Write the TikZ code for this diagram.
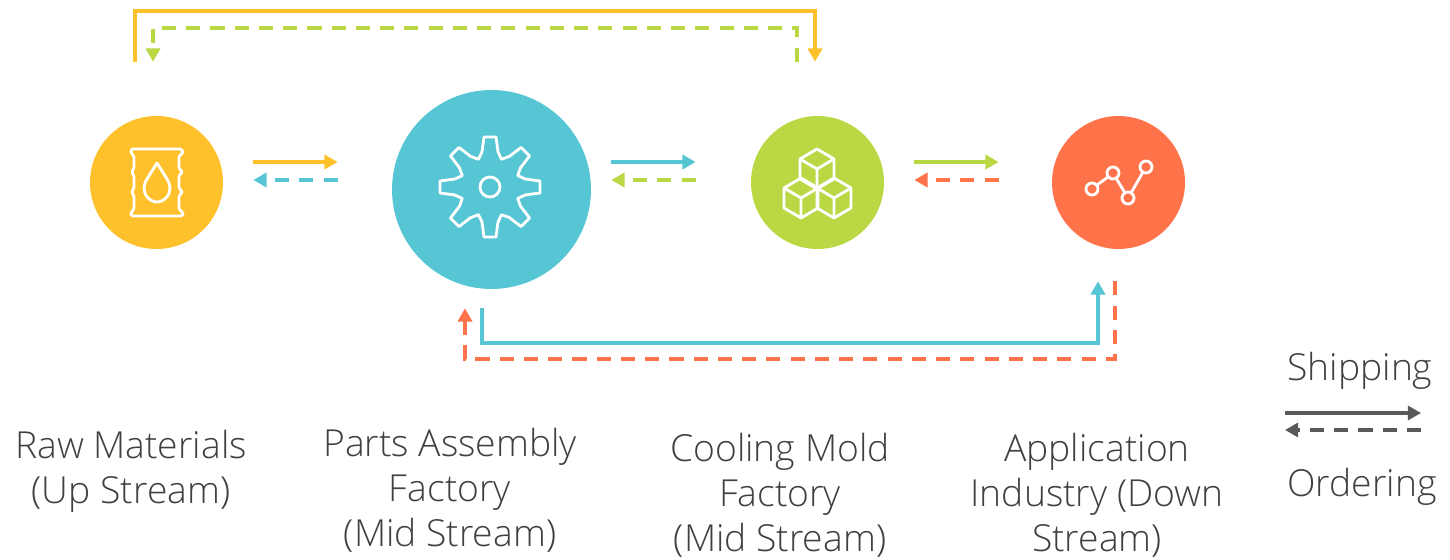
\documentclass[tikz,border=0pt]{standalone}
\usepackage{xcolor}
\usepackage{fontspec}
\setmainfont{Open Sans Light}
\usepackage{tikz}
\usetikzlibrary{calc,arrows.meta}
\definecolor{raw}{HTML}{FFC12B}
\definecolor{parts}{HTML}{56C6D4}
\definecolor{mold}{HTML}{BAD744}
\definecolor{app}{HTML}{FF734A}
\definecolor{legend}{HTML}{595959}
\definecolor{ink}{HTML}{404040}
\tikzset{
  hub/.style={circle, inner sep=0pt, minimum size=2.66cm},
  bighub/.style={circle, inner sep=0pt, minimum size=3.98cm},
  ship/.style={line width=2pt, -{Triangle[length=7.5pt,width=8pt]}},
  order/.style={line width=2pt, dash pattern=on 8pt off 5.8pt, -{Triangle[length=7.5pt,width=8pt]}},
  icon/.style={draw=white, line width=1.6pt, line join=round, line cap=round},
  lab/.style={text=ink, align=center, inner sep=0pt, font=\fontsize{21.2}{25.6}\selectfont}
}
\begin{document}
\begin{tikzpicture}[x=0.02cm,y=-0.02cm]
  \useasboundingbox (0,0) rectangle (1450,560);
  \node[hub,fill=raw] (rawhub) at (156.5,182.5) {};
  \node[bighub,fill=parts] (partshub) at (491.5,189.5) {};
  \node[hub,fill=mold] (moldhub) at (817.5,182.5) {};
  \node[hub,fill=app] (apphub) at (1118.5,182.5) {};

  \coordinate (topship) at (475,11);
  \coordinate (toporder) at (475,28);
  \coordinate (lowship) at (790,343);
  \coordinate (loworder) at (790,359);
  \coordinate (legendl) at (1285,413);
  \coordinate (legendr) at (1421,413);
  \coordinate (legendlb) at (1285,430);
  \coordinate (legendrb) at (1421,430);

  \draw[ship,raw] ([shift={(30,-20.5)}]rawhub.east) -- ([shift={(-54,-27.5)}]partshub.west);
  \draw[order,parts] ([shift={(-54,-9.5)}]partshub.west) -- ([shift={(30,-2.5)}]rawhub.east);
  \draw[ship,parts] ([shift={(20,-27.5)}]partshub.east) -- ([shift={(-55,-20.5)}]moldhub.west);
  \draw[order,mold] ([shift={(-55,-2.5)}]moldhub.west) -- ([shift={(20,-9.5)}]partshub.east);
  \draw[ship,mold] ([shift={(30,-20.5)}]moldhub.east) -- ([shift={(-53,-20.5)}]apphub.west);
  \draw[order,app] ([shift={(-53,-2.5)}]apphub.west) -- ([shift={(30,-2.5)}]moldhub.east);

  \draw[ship,raw,line width=2.3pt] ([shift={(-21.5,-54)}]rawhub.north) |- (topship) -| ([shift={(-2.5,-54)}]moldhub.north);
  \draw[order,mold] ([shift={(-20.5,-54)}]moldhub.north) |- (toporder) -| ([shift={(-3.5,-54)}]rawhub.north);
  \draw[ship,parts,line width=2.3pt] ([shift={(-9.5,19)}]partshub.south) |- (lowship) -| ([shift={(-20.5,32)}]apphub.south);
  \draw[order,app] ([shift={(-3.5,32)}]apphub.south) |- (loworder) -| ([shift={(-26.5,19)}]partshub.south);

  \draw[ship,legend] (legendl) -- (legendr);
  \draw[order,legend] (legendrb) -- (legendlb);

  \begin{scope}[shift={(156,182)}]
    \draw[icon,rounded corners=1pt] (-25,-33)--(26,-33)--(27,-28)--(23,-27)--(23,-13)--(27,-10)--(23,-7)--(23,7)--(27,10)--(23,13)--(23,28)--(27,30)--(27,34)--(-25,34)--(-25,30)--(-22,28)--(-22,13)--(-25,10)--(-22,7)--(-22,-7)--(-25,-10)--(-22,-13)--(-22,-27)--(-25,-28)--cycle;
    \draw[icon] (1,-19) -- (-9,-3) .. controls (-17,10) and (-7,20) .. (1,20) .. controls (9,20) and (19,10) .. (11,-3) -- cycle;
  \end{scope}

  \begin{scope}[shift={(490,187)}]
    \draw[icon] (0,0) circle (10);
    \foreach \a in {0,45,...,315}
      \draw[icon,rotate=\a] (-8,-35)--(-6,-50)--(6,-50)--(8,-35)--(11.5,-27.7)--(19.1,-30.5);
  \end{scope}

  \foreach \cx/\cy in {817/169,801/198,834/198}
    \draw[icon,shift={(\cx,\cy)}] (0,-20)--(17,-10)--(17,10)--(0,20)--(-17,10)--(-17,-10)--cycle (-17,-10)--(0,0)--(17,-10) (0,0)--(0,20);

  \begin{scope}
    \foreach \px/\py/\nm in {1092/189/a,1113/173/b,1128/198/c,1146/167/d}
      \draw[icon] (\px,\py) circle (6) coordinate (g\nm);
    \draw[icon] (ga) ++(5,-4) -- ($(gb)+(-5,4)$);
    \draw[icon] (gb) ++(3,5) -- ($(gc)+(-3,-5)$);
    \draw[icon] (gc) ++(3,-5) -- ($(gd)+(-3,5)$);
  \end{scope}

  \node[lab] (rawlab) at (131,471) {Raw Materials\\(Up Stream)};
  \node[lab] (partslab) at (450,490) {Parts Assembly\\Factory\\(Mid Stream)};
  \node[lab] (moldlab) at (780,495) {Cooling Mold\\Factory\\(Mid Stream)};
  \node[lab] (applab) at (1097,495) {Application\\Industry (Down\\Stream)};
  \node[lab] (shiplab) at (1360,371) {Shipping};
  \node[lab] (orderlab) at (1362,487) {Ordering};
\end{tikzpicture}
\end{document}
